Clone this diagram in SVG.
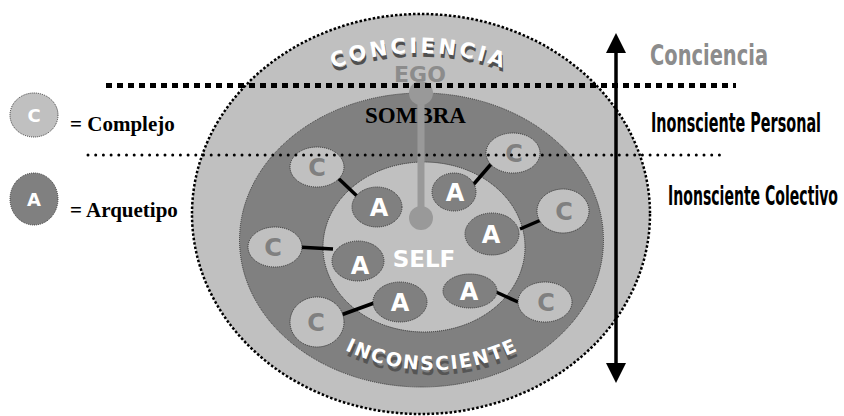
<svg xmlns="http://www.w3.org/2000/svg" width="844" height="416" viewBox="0 0 844 416">
<style>
.lt{fill:#c0c0c0}
.dk{fill:#808080}
.bd{stroke:#333;stroke-width:1;stroke-dasharray:1 1}
.cl{font-family:"DejaVu Sans",Verdana,sans-serif;font-weight:bold;font-size:24px;fill:#808080;text-anchor:middle}
.al{font-family:"DejaVu Sans",Verdana,sans-serif;font-weight:bold;font-size:24px;fill:#fff;text-anchor:middle}
.con{stroke:#000;stroke-width:3.5}
.arc{font-family:"DejaVu Sans",Verdana,sans-serif;font-weight:bold}
.nar{font-family:"Liberation Sans Narrow","DejaVu Sans Condensed","Liberation Sans",sans-serif;font-weight:bold;font-stretch:condensed}
.leg{font-family:"Liberation Serif","Times New Roman",serif;font-weight:bold;font-size:21px;fill:#000}
</style>
<defs>
<path id="arcTop" d="M269,105.5 A240,240 0 0 1 569,105.5"/>
<path id="arcTopS" d="M270,109.5 A240,240 0 0 1 570,109.5"/>
<path id="arcBot" d="M282,302.3 A200,200 0 0 0 582,302.3"/>
<path id="arcBotS" d="M283,307.3 A200,200 0 0 0 583,307.3"/>
<marker id="ah" viewBox="0 0 20 20" refX="2" refY="10" markerWidth="20" markerHeight="20" markerUnits="userSpaceOnUse" orient="auto-start-reverse">
<path d="M0,0 L20,10 L0,20 Z" fill="#000"/>
</marker>
</defs>
<rect width="844" height="416" fill="#fff"/>

<g id="outer">
<ellipse cx="421" cy="214" rx="229" ry="200" class="lt" stroke="#000" stroke-width="2.5" stroke-dasharray="2.5 2"/>
<text class="arc" font-size="21" fill="#505050" letter-spacing="3" text-anchor="middle"><textPath href="#arcTopS" startOffset="50%">CONCIENCIA</textPath></text>
<text class="arc" font-size="21" fill="#fff" letter-spacing="3" text-anchor="middle"><textPath href="#arcTop" startOffset="50%">CONCIENCIA</textPath></text>
<text x="420" y="82" font-family="DejaVu Sans,Verdana,sans-serif" font-weight="bold" font-size="22" fill="#8c8c8c" text-anchor="middle">EGO</text>
</g>

<g id="ring">
<ellipse cx="421.5" cy="240" rx="182" ry="147" class="dk bd"/>
<text x="365" y="123" font-family="Liberation Serif,Times New Roman,serif" font-weight="bold" font-size="23" fill="#000">SOMBRA</text>
<text class="arc" font-size="19" fill="#555" letter-spacing="1.8" text-anchor="middle"><textPath href="#arcBotS" startOffset="50%">INCONSCIENTE</textPath></text>
<text class="arc" font-size="19" fill="#fff" letter-spacing="1.8" text-anchor="middle"><textPath href="#arcBot" startOffset="50%">INCONSCIENTE</textPath></text>
</g>

<g id="self">
<ellipse cx="424" cy="247" rx="101" ry="85" class="lt bd"/>
<text x="424" y="267" font-family="DejaVu Sans,Verdana,sans-serif" font-weight="bold" font-size="23" fill="#fff" text-anchor="middle">SELF</text>
</g>

<g id="ego-axis" fill="#999">
<rect x="417.5" y="93" width="7" height="125"/>
<circle cx="421" cy="93" r="12"/>
<circle cx="421" cy="218" r="12"/>
</g>

<g id="connectors">
<line class="con" x1="338" y1="178" x2="358" y2="197"/>
<line class="con" x1="473" y1="185" x2="492" y2="163"/>
<line class="con" x1="520" y1="229" x2="541" y2="220"/>
<line class="con" x1="297" y1="247" x2="333" y2="249"/>
<line class="con" x1="341" y1="315" x2="374" y2="303"/>
<line class="con" x1="496" y1="292" x2="518" y2="302"/>
</g>

<g id="c1"><ellipse cx="317" cy="167" rx="27" ry="20" class="lt bd"/><text x="317" y="176" class="cl">C</text></g>
<g id="a1"><ellipse cx="377" cy="207" rx="25" ry="20" class="dk bd"/><text x="379" y="216" class="al">A</text></g>
<g id="a2"><ellipse cx="454" cy="192" rx="22" ry="19" class="dk bd"/><text x="455" y="201" class="al">A</text></g>
<g id="c2"><ellipse cx="513" cy="153" rx="27" ry="20" class="lt bd"/><text x="514" y="162" class="cl">C</text></g>
<g id="c3"><ellipse cx="563" cy="211" rx="26" ry="22" class="lt bd"/><text x="564" y="220" class="cl">C</text></g>
<g id="a3"><ellipse cx="492" cy="234" rx="27" ry="21" class="dk bd"/><text x="491" y="243" class="al">A</text></g>
<g id="c4"><ellipse cx="275" cy="247" rx="27" ry="20" class="lt bd"/><text x="273" y="256" class="cl">C</text></g>
<g id="a4"><ellipse cx="358" cy="261" rx="26" ry="20" class="dk bd"/><text x="360" y="274" class="al">A</text></g>
<g id="a5"><ellipse cx="400" cy="302" rx="27" ry="20" class="dk bd"/><text x="400" y="311" class="al">A</text></g>
<g id="c5"><ellipse cx="317" cy="322" rx="27" ry="25" class="lt bd"/><text x="316" y="331" class="cl">C</text></g>
<g id="a6"><ellipse cx="470" cy="291" rx="27" ry="17" class="dk bd"/><text x="469" y="300" class="al">A</text></g>
<g id="c6"><ellipse cx="545" cy="302" rx="27" ry="20" class="lt bd"/><text x="546" y="311" class="cl">C</text></g>

<g id="levels">
<line x1="106" y1="85.5" x2="736" y2="85.5" stroke="#000" stroke-width="5" stroke-dasharray="6 5"/>
<line x1="88" y1="155" x2="726" y2="155" stroke="#000" stroke-width="3" stroke-dasharray="0 7.7" stroke-linecap="round"/>
<line x1="616" y1="51" x2="616" y2="365" stroke="#000" stroke-width="3.5" marker-start="url(#ah)" marker-end="url(#ah)"/>
</g>

<g id="labels">
<text x="650" y="65" class="nar" font-size="29" fill="#8c8c8c" textLength="118" lengthAdjust="spacingAndGlyphs">Conciencia</text>
<text x="651" y="132" class="nar" font-size="26" fill="#000" textLength="170" lengthAdjust="spacingAndGlyphs">Inonsciente Personal</text>
<text x="668" y="205" class="nar" font-size="26" fill="#000" textLength="170" lengthAdjust="spacingAndGlyphs">Inonsciente Colectivo</text>
</g>

<g id="legend-c"><ellipse cx="34" cy="115" rx="24" ry="22" class="lt bd"/><text x="34" y="122" font-family="DejaVu Sans,Verdana,sans-serif" font-weight="bold" font-size="18" fill="#fff" text-anchor="middle">C</text><text x="70" y="131" class="leg">= Complejo</text></g>
<g id="legend-a"><ellipse cx="34" cy="199" rx="24" ry="26" class="dk bd"/><text x="34" y="206" font-family="DejaVu Sans,Verdana,sans-serif" font-weight="bold" font-size="18" fill="#fff" text-anchor="middle">A</text><text x="70" y="217" class="leg">= Arquetipo</text></g>
</svg>
